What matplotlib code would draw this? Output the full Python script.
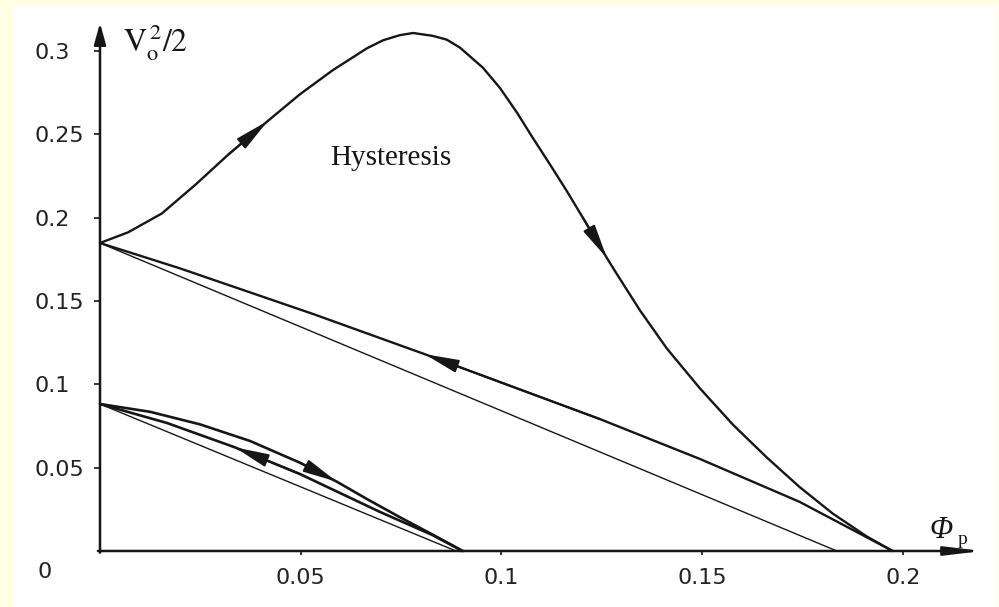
import numpy as np
import matplotlib
matplotlib.use("Agg")
import matplotlib.pyplot as plt
from matplotlib.patches import Rectangle

plt.rcParams["mathtext.fontset"] = "stix"

INK = "#161616"

# outer hysteresis loop: rising hump (left -> right), then return branch (right -> left)
hump_x = [0.0000, 0.0070, 0.0154, 0.0237, 0.0319, 0.0418, 0.0498, 0.0580, 0.0665,
          0.0705, 0.0747, 0.0780, 0.0829, 0.0864, 0.0897, 0.0954, 0.0996, 0.1039,
          0.1078, 0.1121, 0.1163, 0.1203, 0.1263, 0.1283, 0.1345, 0.1412, 0.1494,
          0.1577, 0.1661, 0.1743, 0.1826, 0.1910, 0.1975]
hump_y = [0.1848, 0.1912, 0.2025, 0.2196, 0.2377, 0.2580, 0.2740, 0.2885, 0.3016,
          0.3064, 0.3095, 0.3108, 0.3091, 0.3068, 0.3020, 0.2900, 0.2780, 0.2630,
          0.2480, 0.2320, 0.2160, 0.2000, 0.1758, 0.1680, 0.1445, 0.1216, 0.0978,
          0.0758, 0.0562, 0.0384, 0.0224, 0.0088, 0.0000]
back_x = [0.0000, 0.0199, 0.0531, 0.0809, 0.1245, 0.1494, 0.1743, 0.1975]
back_y = [0.1848, 0.1696, 0.1422, 0.1181, 0.0792, 0.0553, 0.0295, 0.0000]
outer_line_x = [0.0000, 0.1836]
outer_line_y = [0.1848, 0.0000]

# inner loop
inner_top_x = [0.0000, 0.0125, 0.0249, 0.0374, 0.0498, 0.0590, 0.0665, 0.0747, 0.0829, 0.0904]
inner_top_y = [0.0882, 0.0835, 0.0760, 0.0660, 0.0530, 0.0416, 0.0312, 0.0203, 0.0098, 0.0000]
inner_mid_x = [0.0000, 0.0167, 0.0336, 0.0498, 0.0697, 0.0829, 0.0903]
inner_mid_y = [0.0882, 0.0768, 0.0622, 0.0462, 0.0235, 0.0095, 0.0000]
inner_line_x = [0.0000, 0.0887]
inner_line_y = [0.0882, 0.0000]

xticks = [0.05, 0.1, 0.15, 0.2]
xtick_labels = ["0.05", "0.1", "0.15", "0.2"]
yticks = [0.05, 0.1, 0.15, 0.2, 0.25, 0.3]
ytick_labels = ["0.05", "0.1", "0.15", "0.2", "0.25", "0.3"]

fig = plt.figure(figsize=(9.99, 6.07), dpi=100)
fig.patch.set_facecolor("#ffffe4")
panel = Rectangle((14 / 999, 0), 983 / 999, 602 / 607, transform=fig.transFigure,
                  facecolor="white", edgecolor="none", zorder=-10)
fig.add_artist(panel)

ax = fig.add_axes([100 / 999, 56 / 607, 891 / 999, 530 / 607])
ax.set_zorder(1)
ax.set_facecolor("none")
ax.set_xlim(0, 0.222)
ax.set_ylim(0, 0.318)
for s in ax.spines.values():
    s.set_visible(False)

# curves
line_kw = dict(color=INK, clip_on=False, solid_joinstyle="round", solid_capstyle="round")
ax.plot(hump_x, hump_y, lw=1.7, **line_kw)
ax.plot(back_x, back_y, lw=1.7, **line_kw)
ax.plot(outer_line_x, outer_line_y, lw=1.0, **line_kw)
ax.plot(inner_top_x, inner_top_y, lw=1.9, **line_kw)
ax.plot(inner_mid_x, inner_mid_y, lw=1.9, **line_kw)
ax.plot(inner_line_x, inner_line_y, lw=1.0, **line_kw)


def flow_arrow(xs, ys, i, step):
    """Filled arrowhead at point i, pointing from point i-step to point i."""
    ax.annotate("", xy=(xs[i], ys[i]), xytext=(xs[i - step], ys[i - step]),
                arrowprops=dict(arrowstyle="-|>,head_length=2.1,head_width=0.4",
                                color=INK, lw=1.4, mutation_scale=10,
                                shrinkA=0, shrinkB=0),
                annotation_clip=False)


flow_arrow(hump_x, hump_y, 5, 1)
flow_arrow(hump_x, hump_y, 22, 1)
flow_arrow(back_x, back_y, 3, -1)
flow_arrow(inner_top_x, inner_top_y, 5, 1)
flow_arrow(inner_mid_x, inner_mid_y, 2, -1)

# axes drawn as arrows
ax.annotate("", xy=(0.2199, 0), xytext=(-0.0005, 0),
            arrowprops=dict(arrowstyle="-|>,head_length=2.2,head_width=0.26",
                            color=INK, lw=1.8, mutation_scale=10,
                            shrinkA=0, shrinkB=0),
            annotation_clip=False)
ax.annotate("", xy=(0, 0.3168), xytext=(0, -0.001),
            arrowprops=dict(arrowstyle="-|>,head_length=1.3,head_width=0.36",
                            color=INK, lw=1.8, mutation_scale=10,
                            shrinkA=0, shrinkB=0),
            annotation_clip=False)

ax.set_xticks(xticks)
ax.set_xticklabels(xtick_labels, fontsize=16)
ax.set_yticks(yticks)
ax.set_yticklabels(ytick_labels, fontsize=16)
for lbl in ax.get_yticklabels():
    lbl.set_horizontalalignment("left")
ax.tick_params(axis="x", direction="out", length=3, width=1.2, pad=9, colors=INK)
ax.tick_params(axis="y", direction="out", length=4, width=1.2, pad=43, colors=INK)
for lbl in ax.get_xticklabels() + ax.get_yticklabels():
    lbl.set_color("#222222")

ax.annotate("0", xy=(0, 0), xytext=(-40, -15), textcoords="offset points",
            ha="center", va="center", fontsize=16, color="#222222",
            annotation_clip=False)

ax.text(0.0057, 0.305, r"$\mathrm{V_o^{\,2}/2}$", fontsize=23, color=INK,
        ha="left", va="center")
# Phi_p axis name: italic Phi with an upright subscript
ax.text(0.2067, 0.0078, "Φ", fontsize=22, family="Liberation Serif",
        style="italic", color=INK, ha="left", va="baseline")
ax.annotate("p", xy=(0.2067, 0.0078), xytext=(20, -4), textcoords="offset points",
            fontsize=14, family="Liberation Serif", color=INK,
            ha="left", va="baseline", annotation_clip=False)
ax.text(0.0725, 0.2316, "Hysteresis", fontsize=21, family="Liberation Serif",
        color=INK, ha="center", va="baseline")

fig.savefig("out.png", dpi=100, facecolor=fig.get_facecolor())
